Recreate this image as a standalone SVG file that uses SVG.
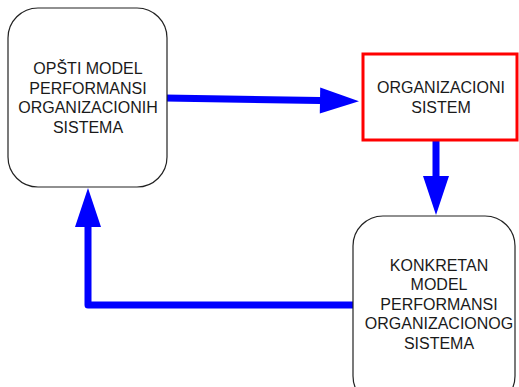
<svg xmlns="http://www.w3.org/2000/svg" width="519" height="387" viewBox="0 0 519 387">
  <style>
    .node { fill: #ffffff; stroke: #222222; stroke-width: 1.2; }
    .red { fill: #ffffff; stroke: #ff0000; stroke-width: 3; }
    .lbl { font-family: "Liberation Sans", Arial, sans-serif; font-size: 16px; fill: #1a1a1a; text-anchor: middle; }
    .conn { fill: none; stroke: #0000ff; stroke-width: 7; stroke-linecap: round; stroke-linejoin: round; }
  </style>
  <defs>
    <marker id="head" markerUnits="userSpaceOnUse" markerWidth="40" markerHeight="26" refX="0" refY="13" orient="auto" overflow="visible">
      <path d="M0,0 L39,13 L0,26 Z" fill="#0000ff"/>
    </marker>
  </defs>
  <rect width="519" height="387" fill="#ffffff"/>

  <g id="connectors">
    <path class="conn" d="M165,98 L320,100.5" marker-end="url(#head)"/>
    <path class="conn" d="M436,140 L436,176" marker-end="url(#head)"/>
    <path class="conn" d="M355,305 L88,305 L88,227" marker-end="url(#head)"/>
  </g>

  <g id="node-opsti">
    <rect class="node" x="8" y="8" width="159" height="179" rx="30" ry="30"/>
    <text class="lbl" x="88" y="74">OPŠTI MODEL</text>
    <text class="lbl" x="88" y="93.5">PERFORMANSI</text>
    <text class="lbl" x="88" y="113">ORGANIZACIONIH</text>
    <text class="lbl" x="88" y="132.5">SISTEMA</text>
  </g>

  <g id="node-organizacioni">
    <rect class="red" x="363" y="54" width="154" height="86"/>
    <text class="lbl" x="441" y="93.3">ORGANIZACIONI</text>
    <text class="lbl" x="441" y="112.7">SISTEM</text>
  </g>

  <g id="node-konkretan">
    <rect class="node" x="353" y="216" width="162" height="190" rx="30" ry="30"/>
    <text class="lbl" x="439" y="271">KONKRETAN</text>
    <text class="lbl" x="439" y="290.4">MODEL</text>
    <text class="lbl" x="439" y="309.8">PERFORMANSI</text>
    <text class="lbl" x="439" y="329.2">ORGANIZACIONOG</text>
    <text class="lbl" x="439" y="348.6">SISTEMA</text>
  </g>
</svg>
